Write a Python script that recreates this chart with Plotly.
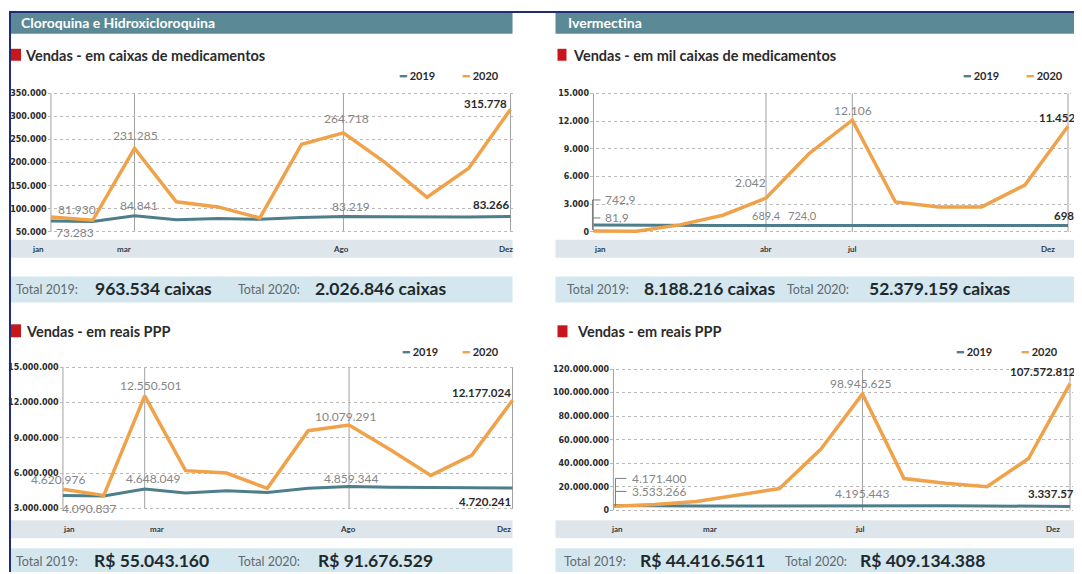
import plotly.graph_objects as go

# The page body adds an 8px margin, so the figure is sized to fill the rest of the window
OX, OY = 8, 8
W, H = 1082 - OX, 574 - OY

# ---------------- data ----------------
months = list(range(12))  # jan .. dez

cloro_cx_2019 = [73283, 72500, 84841, 76000, 79000, 77000, 81000, 83219, 82500, 82000, 82000, 83266]
cloro_cx_2020 = [81930, 75000, 231285, 115000, 104000, 80000, 240000, 264718, 200000, 125000, 188000, 315778]

iver_cx_2019 = [742.9, 700, 690, 680, 689.4, 700, 724.0, 705, 700, 700, 700, 698.0]
iver_cx_2020 = [81.9, 60, 750, 1800, 3670, 8500, 12106, 3240, 2700, 2700, 5070, 11452.0]

cloro_rs_2019 = [4090837, 4050000, 4648049, 4300000, 4500000, 4350000, 4700000, 4859344, 4800000, 4800000, 4750000, 4720241]
cloro_rs_2020 = [4620976, 4100000, 12550501, 6200000, 6000000, 4700000, 9600000, 10079291, 8000000, 5800000, 7500000, 12177024]

iver_rs_2019 = [4171400, 3700000, 3600000, 3700000, 3800000, 4000000, 4195443, 3900000, 3800000, 3700000, 3600000, 3337571]
iver_rs_2020 = [3533266, 5000000, 7500000, 13000000, 18500000, 52000000, 98945625, 27000000, 23000000, 20000000, 44000000, 107572812]

ticks_p1 = [50000, 100000, 150000, 200000, 250000, 300000, 350000]
ticktext_p1 = ["50.000", "100.000", "150.000", "200.000", "250.000", "300.000", "350.000"]
ticks_p2 = [0, 3000, 6000, 9000, 12000, 15000]
ticktext_p2 = ["0", "3.000", "6.000", "9.000", "12.000", "15.000"]
ticks_p3 = [3e6, 6e6, 9e6, 12e6, 15e6]
ticktext_p3 = ["3.000.000", "6.000.000", "9.000.000", "12.000.000", "15.000.000"]
ticks_p4 = [0, 20e6, 40e6, 60e6, 80e6, 100e6, 120e6]
ticktext_p4 = ["0", "20.000.000", "40.000.000", "60.000.000", "80.000.000", "100.000.000", "120.000.000"]

# ---------------- style ----------------
ORANGE = "#F0A24A"
TEAL = "#4E7E8B"
HEADER = "#5B8995"
XBAND = "#DEE6EC"
TBAND = "#D4E6EE"
RED = "#C8161D"
NAVY = "#1F2B7B"
GRID = "#B8B8B8"
VLINE = "#A0A0A0"
LBL = "#858585"
DARK = "#2B2B2B"
FONT = "Lato"


def px(x):
    return (x - OX) / W


def py(y):
    return 1 - (y - OY) / H


fig = go.Figure()
shapes = []
ann = []

panels = [
    dict(k="", x0=50, x11=510, vlo=50000, plo=232, vhi=350000, phi=93,
         tv=ticks_p1, tt=ticktext_p1, s19=cloro_cx_2019, s20=cloro_cx_2020, vlines=[2, 7]),
    dict(k="2", x0=593, x11=1068, vlo=0, plo=232, vhi=15000, phi=93,
         tv=ticks_p2, tt=ticktext_p2, s19=iver_cx_2019, s20=iver_cx_2020, vlines=[4, 6]),
    dict(k="3", x0=62, x11=512, vlo=3e6, plo=510, vhi=15e6, phi=368,
         tv=ticks_p3, tt=ticktext_p3, s19=cloro_rs_2019, s20=cloro_rs_2020, vlines=[2, 7]),
    dict(k="4", x0=613, x11=1070, vlo=0, plo=512, vhi=120e6, phi=370,
         tv=ticks_p4, tt=ticktext_p4, s19=iver_rs_2019, s20=iver_rs_2020, vlines=[6]),
]

layout_axes = {}
for p in panels:
    k = p["k"]
    step = (p["x11"] - p["x0"]) / 11
    pad = 0.08
    kk = (p["vhi"] - p["vlo"]) / (p["plo"] - p["phi"])
    layout_axes["xaxis" + k] = dict(
        domain=[px(p["x0"] - pad * step), px(p["x11"] + pad * step)],
        range=[-pad, 11 + pad], showgrid=False, zeroline=False, showticklabels=False,
        showline=False, anchor="y" + k, fixedrange=True)
    layout_axes["yaxis" + k] = dict(
        domain=[py(p["plo"] + 3), py(p["phi"] - 3)],
        range=[p["vlo"] - 3 * kk, p["vhi"] + 3 * kk],
        tickvals=p["tv"], ticktext=p["tt"], ticks="", showline=False, zeroline=False,
        showgrid=True, gridcolor=GRID, griddash="dot", gridwidth=1,
        tickfont=dict(family="DejaVu Sans", size=8, color=DARK, weight="bold"),
        ticklabelstandoff=0, anchor="x" + k, fixedrange=True)

    xr = "x" + k
    yr = "y" + k
    for v in [0] + p["vlines"] + [11]:
        shapes.append(dict(type="line", xref=xr, yref=yr + " domain", x0=v, x1=v, y0=0.02, y1=0.98,
                           line=dict(color=VLINE, width=1), layer="below"))
    fig.add_trace(go.Scatter(x=months, y=p["s19"], mode="lines", line=dict(color=TEAL, width=3),
                             xaxis=xr, yaxis=yr, showlegend=False, hoverinfo="skip"))
    fig.add_trace(go.Scatter(x=months, y=p["s20"], mode="lines", line=dict(color=ORANGE, width=3.5),
                             xaxis=xr, yaxis=yr, showlegend=False, hoverinfo="skip"))

# ---------- frame / header / bands ----------
shapes += [
    dict(type="rect", xref="paper", yref="paper", x0=px(8), x1=px(10), y0=0, y1=py(10),
         fillcolor=NAVY, line=dict(width=0)),
    dict(type="rect", xref="paper", yref="paper", x0=px(8), x1=1, y0=py(12), y1=py(10),
         fillcolor=NAVY, line=dict(width=0)),
]
for (a, b) in [(10, 512), (555, 1082)]:
    shapes.append(dict(type="rect", xref="paper", yref="paper", x0=px(a), x1=px(b), y0=py(33), y1=py(12),
                       fillcolor=HEADER, line=dict(width=0), layer="below"))
for (a, b, t, u) in [(10, 512, 240, 258), (555, 1082, 240, 258), (10, 512, 522, 540), (555, 1082, 522, 540)]:
    shapes.append(dict(type="rect", xref="paper", yref="paper", x0=px(a), x1=px(b), y0=py(u), y1=py(t),
                       fillcolor=XBAND, line=dict(width=0), layer="below"))
for (a, b, t, u) in [(10, 512, 277, 303), (555, 1082, 277, 303), (10, 512, 550, 574), (555, 1082, 550, 574)]:
    shapes.append(dict(type="rect", xref="paper", yref="paper", x0=px(a), x1=px(b), y0=py(u), y1=py(t),
                       fillcolor=TBAND, line=dict(width=0), layer="below"))
for (a, b, t, u) in [(10, 20, 48, 60), (557, 566, 48, 60), (10, 20, 325, 338), (557, 567, 326, 338)]:
    shapes.append(dict(type="rect", xref="paper", yref="paper", x0=px(a), x1=px(b), y0=py(u), y1=py(t),
                       fillcolor=RED, line=dict(width=0)))


def text(x, y, s, size=11, color=DARK, bold=False, xanchor="left", family=FONT):
    ann.append(dict(xref="paper", yref="paper", x=px(x), y=py(y), text=s, showarrow=False,
                    xanchor=xanchor, yanchor="middle",
                    font=dict(family=family, size=size, color=color, weight="bold" if bold else "normal")))


# headers
text(18, 22, "Cloroquina e Hidroxicloroquina", 14, "white", True)
text(566, 22, "Ivermectina", 14, "white", True)
# subtitles
text(22, 55, "Vendas - em caixas de medicamentos", 14.5, DARK, True)
text(571, 55, "Vendas - em mil caixas de medicamentos", 14.5, DARK, True)
text(23, 332, "Vendas - em reais PPP", 14.5, DARK, True)
text(575, 332, "Vendas - em reais PPP", 14.5, DARK, True)
# legends
for (x19, x20, yy) in [(396, 459, 75), (961, 1024, 75), (399, 459, 352), (954, 1019, 352)]:
    text(x19, yy, f"<span style='color:{TEAL}'>━</span> 2019", 11, DARK, True)
    text(x20, yy, f"<span style='color:{ORANGE}'>━</span> 2020", 11, DARK, True)

# totals
for (x, y, s) in [(13, 290, "Total 2019:"), (235, 290, "Total 2020:"),
                  (565, 290, "Total 2019:"), (785, 290, "Total 2020:"),
                  (13, 563, "Total 2019:"), (235, 563, "Total 2020:"),
                  (562, 563, "Total 2019:"), (783, 563, "Total 2020:")]:
    text(x, y, s, 12.5, "#5F6B70", False)
for (x, y, s) in [(92, 289, "963.534 caixas"), (312, 289, "2.026.846 caixas"),
                  (642, 289, "8.188.216 caixas"), (867, 289, "52.379.159 caixas"),
                  (91, 562, "R$ 55.043.160"), (315, 562, "R$ 91.676.529"),
                  (638, 562, "R$ 44.416.5611"), (858, 562, "R$ 409.134.388")]:
    text(x, y, s, 17.5, "#1F2A2E", True)


# x tick labels (anchored to data x)
def xlab(k, idx, shift, yy, s):
    ann.append(dict(xref="x" + k, yref="paper", x=idx, y=py(yy), xshift=shift, text=s, showarrow=False,
                    xanchor="center", yanchor="middle",
                    font=dict(family=FONT, size=8, color="#2E3A42", weight="bold")))


for (idx, sh, s) in [(0, -13, "jan"), (2, -11, "mar"), (7, -2, "Ago"), (11, -5, "Dez")]:
    xlab("", idx, sh, 249, s)
for (idx, sh, s) in [(0, 7, "jan"), (4, 0, "abr"), (6, 0, "jul"), (11, -20, "Dez")]:
    xlab("2", idx, sh, 249, s)
for (idx, sh, s) in [(0, 6, "jan"), (2, 12, "mar"), (7, -1, "Ago"), (11, -9, "Dez")]:
    xlab("3", idx, sh, 531, s)
for (idx, sh, s) in [(0, 4, "jan"), (2, 14, "mar"), (6, -2, "jul"), (11, -17, "Dez")]:
    xlab("4", idx, sh, 531, s)


# data labels
def dlab(k, idx, series, s, xanchor="center", xshift=0, yshift=10, bold=False, size=12):
    ann.append(dict(xref="x" + k, yref="y" + k, x=idx, y=series[idx], text=s, showarrow=False,
                    xanchor=xanchor, yanchor="middle", xshift=xshift, yshift=yshift,
                    font=dict(family=FONT, size=size if not bold else 11.5, color=DARK if bold else LBL,
                              weight="bold" if bold else "normal")))


# panel 1
dlab("", 0, cloro_cx_2020, "81.930", "left", 5, 8)
dlab("", 0, cloro_cx_2019, "73.283", "left", 3, -11)
dlab("", 2, cloro_cx_2020, "231.285", "center", 1, 13)
dlab("", 2, cloro_cx_2019, "84.841", "center", 4, 10)
dlab("", 7, cloro_cx_2020, "264.718", "center", 3, 14)
dlab("", 7, cloro_cx_2019, "83.219", "center", 8, 10)
dlab("", 11, cloro_cx_2020, "315.778", "right", -2, 6, True)
dlab("", 11, cloro_cx_2019, "83.266", "right", 0, 12, True)
# panel 2
dlab("2", 0, iver_cx_2019, "742,9", "left", 10, 25)
dlab("2", 0, iver_cx_2019, "81,9", "left", 10, 7)
dlab("2", 4, iver_cx_2020, "2.042", "right", 2, 15)
dlab("2", 4, iver_cx_2019, "689,4", "center", 0, 10, size=11)
dlab("2", 6, iver_cx_2019, "724,0", "center", -50, 10, size=11)
dlab("2", 6, iver_cx_2020, "12.106", "center", 1, 10)
dlab("2", 11, iver_cx_2020, "11.452,0", "left", -31, 9, True)
dlab("2", 11, iver_cx_2019, "698,0", "left", -16, 10, True)
# panel 3
dlab("3", 0, cloro_rs_2020, "4.620.976", "center", -5, 10)
dlab("3", 0, cloro_rs_2019, "4.090.837", "center", 26, -13)
dlab("3", 2, cloro_rs_2020, "12.550.501", "center", 6, 10)
dlab("3", 2, cloro_rs_2019, "4.648.049", "center", 8, 10)
dlab("3", 7, cloro_rs_2020, "10.079.291", "center", -4, 9)
dlab("3", 7, cloro_rs_2019, "4.859.344", "center", 2, 8)
dlab("3", 11, cloro_rs_2020, "12.177.024", "right", 0, 8, True)
dlab("3", 11, cloro_rs_2019, "4.720.241", "right", 0, -13, True)
# panel 4
dlab("4", 0, iver_rs_2019, "4.171.400", "left", 17, 27)
dlab("4", 0, iver_rs_2019, "3.533.266", "left", 17, 14)
dlab("4", 6, iver_rs_2020, "98.945.625", "center", -2, 10)
dlab("4", 6, iver_rs_2019, "4.195.443", "center", 0, 12)
dlab("4", 11, iver_rs_2020, "107.572.812", "left", -62, 12, True)
dlab("4", 11, iver_rs_2019, "3.337.571", "left", -44, 13, True)

# brackets linking jan labels to the first points
shapes.append(dict(type="path", xref="x2", yref="y2", xsizemode="pixel", ysizemode="pixel",
                   xanchor=0, yanchor=iver_cx_2019[0],
                   path="M -1,-5 L -1,25 L 7,25 M -1,7 L 7,7",
                   line=dict(color="#7A7A7A", width=1)))
shapes.append(dict(type="path", xref="x4", yref="y4", xsizemode="pixel", ysizemode="pixel",
                   xanchor=0, yanchor=iver_rs_2019[0],
                   path="M 2,-1 L 2,27 L 13,27 M 2,14 L 13,14",
                   line=dict(color="#7A7A7A", width=1)))

fig.update_layout(
    width=W, height=H, margin=dict(l=0, r=0, t=0, b=0),
    paper_bgcolor="white", plot_bgcolor="rgba(0,0,0,0)",
    shapes=shapes, annotations=ann, showlegend=False,
    **layout_axes,
)

fig.write_html("out.html")
